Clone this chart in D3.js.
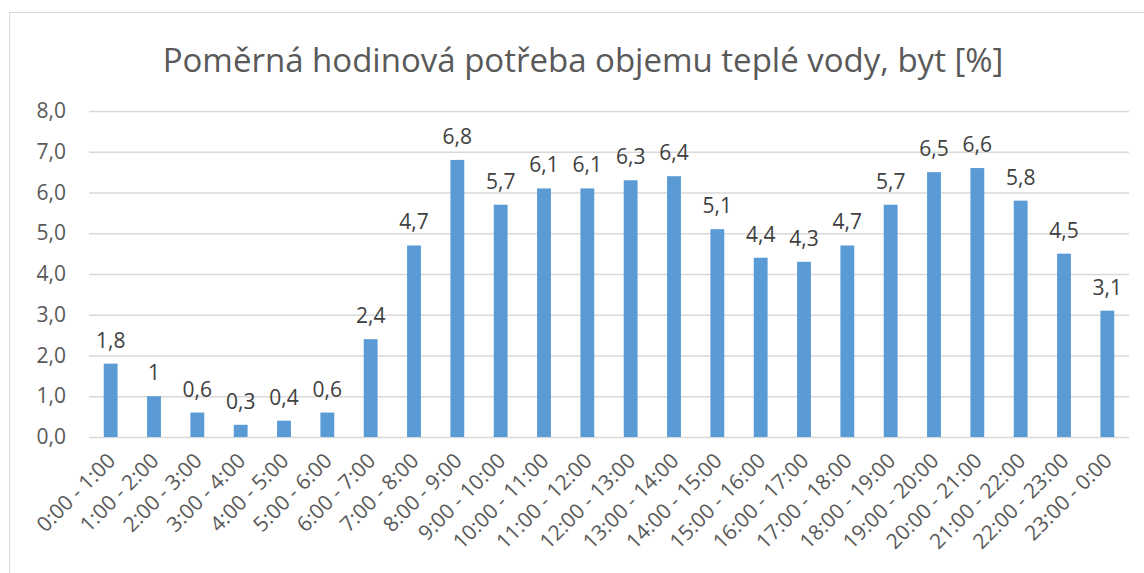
<!DOCTYPE html>
<html>
<head>
<meta charset="utf-8">
<script src="https://cdn.jsdelivr.net/npm/d3@7"></script>
<style>
  body { margin: 0; background: #fff; }
  text { font-family: "Open Sans", sans-serif; }
</style>
</head>
<body>
<div id="chart"></div>
<script>
  // chart data
  var hours = ["0:00 - 1:00", "1:00 - 2:00", "2:00 - 3:00", "3:00 - 4:00", "4:00 - 5:00", "5:00 - 6:00",
    "6:00 - 7:00", "7:00 - 8:00", "8:00 - 9:00", "9:00 - 10:00", "10:00 - 11:00", "11:00 - 12:00",
    "12:00 - 13:00", "13:00 - 14:00", "14:00 - 15:00", "15:00 - 16:00", "16:00 - 17:00", "17:00 - 18:00",
    "18:00 - 19:00", "19:00 - 20:00", "20:00 - 21:00", "21:00 - 22:00", "22:00 - 23:00", "23:00 - 0:00"];
  var podil = [1.8, 1, 0.6, 0.3, 0.4, 0.6, 2.4, 4.7, 6.8, 5.7, 6.1, 6.1,
    6.3, 6.4, 5.1, 4.4, 4.3, 4.7, 5.7, 6.5, 6.6, 5.8, 4.5, 3.1];
  var yTicks = [0, 1, 2, 3, 4, 5, 6, 7, 8];
  var titulek = "Poměrná hodinová potřeba objemu teplé vody, byt [%]";

  var W = 1144, H = 573;
  var m = {left: 89, right: 15, top: 111, bottom: 136};

  var svg = d3.select('#chart').append('svg')
    .attr('width', W)
    .attr('height', H);

  // frame of the chart area
  svg.append('rect')
    .attr('x', 9.5).attr('y', 12.5)
    .attr('width', W).attr('height', H)
    .attr('fill', 'none')
    .attr('stroke', '#d9d9d9');

  svg.append('text')
    .attr('x', 583).attr('y', 72)
    .attr('text-anchor', 'middle')
    .attr('fill', '#595959')
    .style('font-size', '33px')
    .text(titulek);

  var x = d3.scaleBand()
    .domain(hours)
    .range([m.left, W - m.right])
    .paddingInner(0.68)
    .paddingOuter(0.34);

  var y = d3.scaleLinear()
    .domain([0, 8])
    .range([H - m.bottom, m.top]);

  // gridlines + y labels
  var yAxis = svg.append('g')
    .attr('transform', 'translate(' + m.left + ',0)')
    .call(d3.axisLeft(y).tickValues(yTicks)
      .tickSize(-(W - m.left - m.right))
      .tickPadding(23)
      .tickFormat(function(d){ return d3.format('.1f')(d).replace('.', ','); }));
  yAxis.select('.domain').remove();
  yAxis.selectAll('line').attr('stroke', '#d9d9d9').attr('stroke-width', 1.3);
  yAxis.selectAll('text').attr('fill', '#595959').style('font-size', '21px');

  // bars
  svg.selectAll('rect.bar').data(podil)
    .enter().append('rect')
    .attr('class', 'bar')
    .attr('x', function(d, i){ return x(hours[i]); })
    .attr('y', function(d){ return y(d); })
    .attr('width', x.bandwidth())
    .attr('height', function(d){ return y(0) - y(d); })
    .attr('fill', '#5b9bd5');

  // value labels
  svg.selectAll('text.val').data(podil)
    .enter().append('text')
    .attr('class', 'val')
    .attr('x', function(d, i){ return x(hours[i]) + x.bandwidth() / 2; })
    .attr('y', function(d){ return y(d) - 16; })
    .attr('text-anchor', 'middle')
    .attr('fill', '#404040')
    .style('font-size', '21px')
    .text(function(d){ return String(d).replace('.', ','); });

  // x labels
  var xAxis = svg.append('g')
    .attr('transform', 'translate(0,' + y(0) + ')')
    .call(d3.axisBottom(x).tickSize(0).tickPadding(0));
  xAxis.select('.domain').remove();
  xAxis.selectAll('text')
    .attr('fill', '#595959')
    .style('font-size', '21px')
    .attr('text-anchor', 'end')
    .attr('dy', null)
    .attr('transform', 'translate(6,25) rotate(-45)');
</script>
</body>
</html>
